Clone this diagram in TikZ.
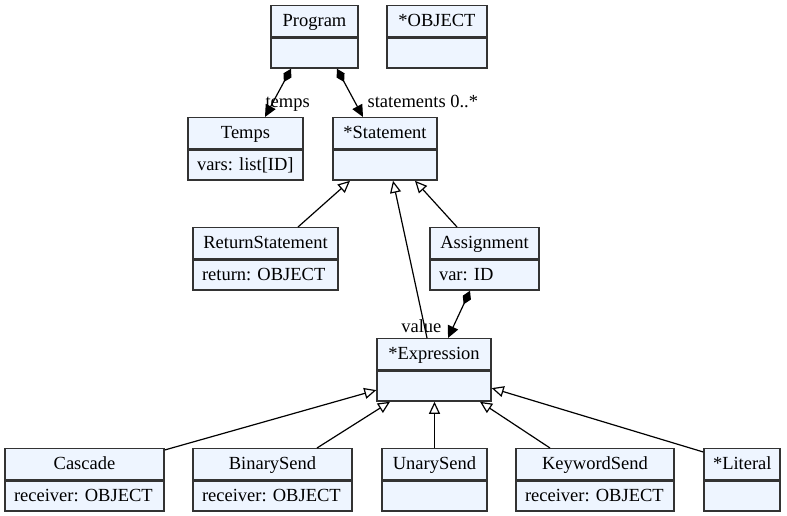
\documentclass[tikz,border=0pt]{standalone}
\usepackage{fontspec}
\setmainfont{Liberation Serif}
\usetikzlibrary{arrows.meta}
\definecolor{clsfill}{HTML}{EEF5FF}
\definecolor{clsdraw}{HTML}{333333}
\begin{document}
\begin{tikzpicture}[x=1pt, y=-1pt, font=\fontsize{18.5}{22}\selectfont\frenchspacing,
    cls/.style={draw=clsdraw, fill=clsfill, line width=1.4pt, inner xsep=9pt, inner ysep=0pt,
      text width=#1, text height=14pt, text depth=4pt, align=center, minimum height=31pt, anchor=north},
    attrs/.style={cls=#1, align=left, minimum height=30pt},
    comp/.style={line width=1.2pt, {Diamond[length=15pt,width=9pt]}-{Triangle[length=12pt,width=11pt]}},
    inh/.style={line width=1.2pt, -{Triangle[open, length=12pt, width=11pt, fill=white]}},
    lbl/.style={inner sep=0pt}]
  \useasboundingbox (0,0) rectangle (787,516);
  % classes, top row
  \node[cls=69pt] (prog) at (314.5,5) {Program};
  \node[attrs=69pt] (prog-a) at (prog.south) {};
  \node[cls=82pt] (obj) at (437,5) {*OBJECT};
  \node[attrs=82pt] (obj-a) at (obj.south) {};
  \node[cls=97pt] (temps) at (245.5,117) {Temps};
  \node[attrs=97pt] (temps-a) at (temps.south) {\mbox{vars: list[ID]}};
  \node[cls=86pt] (stmt) at (385,117) {*Statement};
  \node[attrs=86pt] (stmt-a) at (stmt.south) {};
  % statements
  \node[cls=127pt] (ret) at (265.5,227) {ReturnStatement};
  \node[attrs=127pt] (ret-a) at (ret.south) {\mbox{return: OBJECT}};
  \node[cls=91pt] (asg) at (484.5,227) {Assignment};
  \node[attrs=91pt] (asg-a) at (asg.south) {\mbox{var: ID}};
  \node[cls=96pt] (expr) at (434,338) {*Expression};
  \node[attrs=96pt] (expr-a) at (expr.south) {};
  % expressions
  \node[cls=141pt] (casc) at (84.5,448) {Cascade};
  \node[attrs=141pt] (casc-a) at (casc.south) {\mbox{receiver: OBJECT}};
  \node[cls=141pt] (bin) at (272.5,448) {BinarySend};
  \node[attrs=141pt] (bin-a) at (bin.south) {\mbox{receiver: OBJECT}};
  \node[cls=87pt] (un) at (434.5,448) {UnarySend};
  \node[attrs=87pt] (un-a) at (un.south) {};
  \node[cls=140pt] (kw) at (595,448) {KeywordSend};
  \node[attrs=140pt] (kw-a) at (kw.south) {\mbox{receiver: OBJECT}};
  \node[cls=58pt] (lit) at (742,448) {*Literal};
  \node[attrs=58pt] (lit-a) at (lit.south) {};
  % composition
  \draw[comp] ([xshift=-23.5pt]prog-a.south) -- ([xshift=19.5pt]temps.north)
    node[lbl, at end, anchor=base west, yshift=9pt] {temps};
  \draw[comp] ([xshift=22.5pt]prog-a.south) -- ([xshift=-22pt]stmt.north)
    node[lbl, at end, anchor=base west, xshift=4pt, yshift=9pt] {statements 0..*};
  \draw[comp] ([xshift=-14.5pt]asg-a.south) -- ([xshift=14pt]expr.north)
    node[lbl, at end, anchor=base east, xshift=-6pt, yshift=6pt] {value};
  % inheritance
  \draw[inh] ([xshift=32.5pt]ret.north) -- ([xshift=-35pt]stmt-a.south);
  \draw[inh] ([xshift=-7pt]expr.north) -- ([xshift=8pt]stmt-a.south);
  \draw[inh] ([xshift=-27.5pt]asg.north) -- ([xshift=30pt]stmt-a.south);
  \draw[inh] ([yshift=-2pt]casc.north east) -- ([yshift=-4pt]expr-a.west);
  \draw[inh] ([xshift=44.5pt]bin.north) -- ([xshift=-44pt]expr-a.south);
  \draw[inh] (un.north) -- (un.north |- expr-a.south);
  \draw[inh] ([xshift=-45pt]kw.north) -- ([xshift=46pt]expr-a.south);
  \draw[inh] ([yshift=-4pt]lit.north west) -- ([yshift=-2pt]expr-a.east);
\end{tikzpicture}
\end{document}
